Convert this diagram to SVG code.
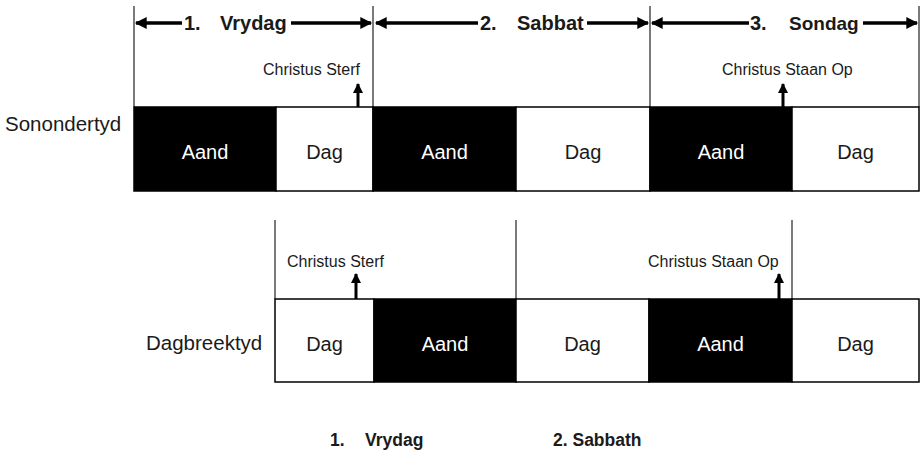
<svg xmlns="http://www.w3.org/2000/svg" width="922" height="458" viewBox="0 0 922 458">
<defs>
<style>
text{font-family:"Liberation Sans",Arial,sans-serif;fill:#1a1a1a}
.lbl{font-size:20.5px}
.hdr{font-size:20px;font-weight:bold}
.leg{font-size:17.5px;font-weight:bold}
.ev{font-size:16px}
.seg{font-size:20px;text-anchor:middle}
.blk{fill:#000;stroke:#000;stroke-width:1.5}
.wht{fill:#fff;stroke:#000;stroke-width:1.5}
.wt{fill:#fff}
.vl{stroke:#222;stroke-width:1.2;fill:none}
.ar{stroke:#000;stroke-width:3.5;fill:none}
.up{stroke:#000;stroke-width:3;fill:none}
</style>
<marker id="ah" viewBox="0 0 10 10" refX="9" refY="5" markerWidth="3.8" markerHeight="3.4" orient="auto" markerUnits="strokeWidth">
<path d="M0,0 L10,5 L0,10 z" fill="#000"/>
</marker>
<marker id="ahu" viewBox="0 0 10 10" refX="9" refY="5" markerWidth="3.4" markerHeight="3.4" orient="auto" markerUnits="strokeWidth">
<path d="M0,0 L10,5 L0,10 z" fill="#000"/>
</marker>
</defs>

<g id="connectors">
<line class="vl" x1="134" y1="6" x2="134" y2="107"/>
<line class="vl" x1="373" y1="6" x2="373" y2="107"/>
<line class="vl" x1="650" y1="6" x2="650" y2="107"/>
<line class="vl" x1="919" y1="6" x2="919" y2="107"/>
<line class="vl" x1="275" y1="220" x2="275" y2="299"/>
<line class="vl" x1="516" y1="220" x2="516" y2="299"/>
<line class="vl" x1="792" y1="220" x2="792" y2="299"/>
<line class="ar" x1="182" y1="23" x2="136" y2="23" marker-end="url(#ah)"/>
<line class="ar" x1="291" y1="23" x2="371" y2="23" marker-end="url(#ah)"/>
<line class="ar" x1="478" y1="23" x2="376" y2="23" marker-end="url(#ah)"/>
<line class="ar" x1="587" y1="23" x2="648" y2="23" marker-end="url(#ah)"/>
<line class="ar" x1="749" y1="23" x2="652" y2="23" marker-end="url(#ah)"/>
<line class="ar" x1="863" y1="23" x2="917" y2="23" marker-end="url(#ah)"/>
<line class="up" x1="358" y1="107" x2="358" y2="84" marker-end="url(#ahu)"/>
<line class="up" x1="783" y1="107" x2="783" y2="84" marker-end="url(#ahu)"/>
<line class="up" x1="356" y1="299" x2="356" y2="274" marker-end="url(#ahu)"/>
<line class="up" x1="779" y1="299" x2="779" y2="274" marker-end="url(#ahu)"/>
</g>

<g id="headers">
<text class="hdr" x="184" y="30">1.</text>
<text class="hdr" x="220" y="30">Vrydag</text>
<text class="hdr" x="480" y="30">2.</text>
<text class="hdr" x="517" y="30">Sabbat</text>
<text class="hdr" x="750" y="30">3.</text>
<text class="hdr" x="789" y="30" style="font-size:19px">Sondag</text>
</g>

<g id="events">
<text class="ev" x="263" y="75">Christus Sterf</text>
<text class="ev" x="722" y="75">Christus Staan Op</text>
<text class="ev" x="287" y="267">Christus Sterf</text>
<text class="ev" x="648" y="267">Christus Staan Op</text>
</g>

<g id="sonondertyd">
<text class="lbl" x="5" y="131">Sonondertyd</text>
<g id="s1"><rect class="blk" x="134" y="107" width="142" height="84"/><text class="seg wt" x="205" y="159">Aand</text></g>
<g id="s2"><rect class="wht" x="276" y="107" width="97" height="84"/><text class="seg" x="324.5" y="159">Dag</text></g>
<g id="s3"><rect class="blk" x="373" y="107" width="143" height="84"/><text class="seg wt" x="444.5" y="159">Aand</text></g>
<g id="s4"><rect class="wht" x="516" y="107" width="134" height="84"/><text class="seg" x="583" y="159">Dag</text></g>
<g id="s5"><rect class="blk" x="650" y="107" width="142" height="84"/><text class="seg wt" x="721" y="159">Aand</text></g>
<g id="s6"><rect class="wht" x="792" y="107" width="127" height="84"/><text class="seg" x="855.5" y="159">Dag</text></g>
</g>

<g id="dagbreektyd">
<text class="lbl" x="146" y="350">Dagbreektyd</text>
<g id="d1"><rect class="wht" x="275" y="299" width="99" height="83"/><text class="seg" x="324.5" y="351">Dag</text></g>
<g id="d2"><rect class="blk" x="374" y="299" width="142" height="83"/><text class="seg wt" x="445" y="351">Aand</text></g>
<g id="d3"><rect class="wht" x="516" y="299" width="133" height="83"/><text class="seg" x="582.5" y="351">Dag</text></g>
<g id="d4"><rect class="blk" x="649" y="299" width="143" height="83"/><text class="seg wt" x="720.5" y="351">Aand</text></g>
<g id="d5"><rect class="wht" x="792" y="299" width="127" height="83"/><text class="seg" x="855.5" y="351">Dag</text></g>
</g>

<g id="legend">
<text class="leg" x="330" y="446">1.</text>
<text class="leg" x="365" y="446">Vrydag</text>
<text class="leg" x="553" y="446">2. Sabbath</text>
</g>
</svg>
